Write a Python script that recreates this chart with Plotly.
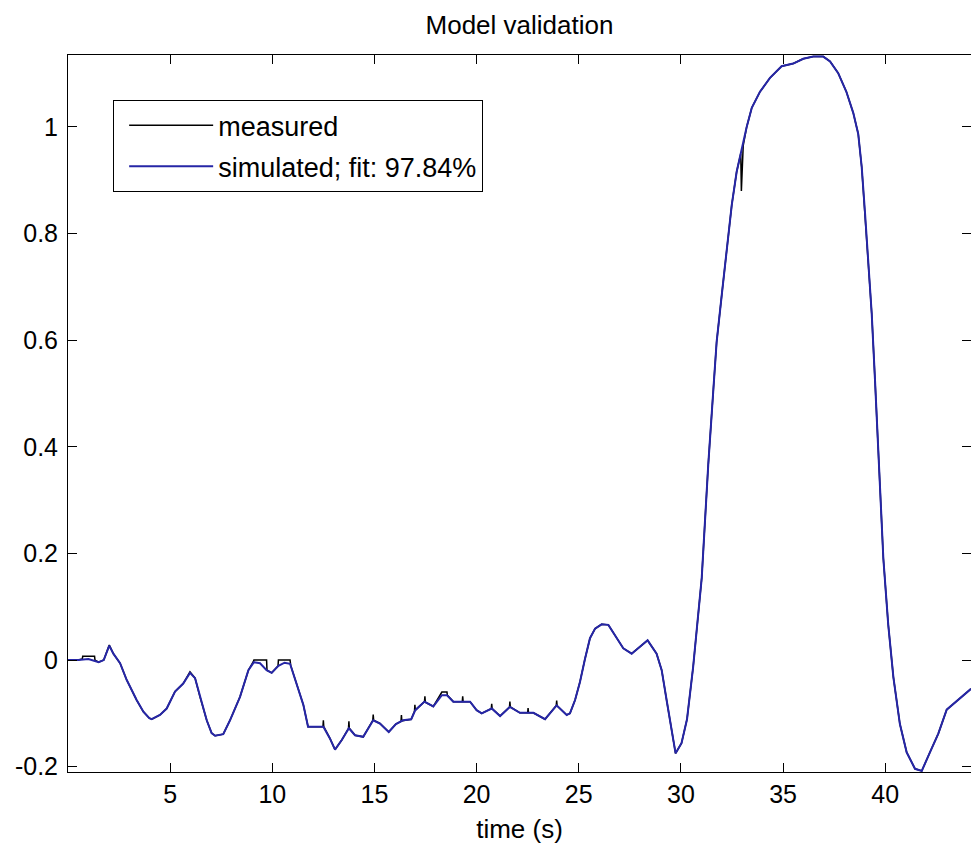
import plotly.graph_objects as go

# ---- data ----
sim_time = [0.0, 0.5, 1.0, 1.5, 1.75, 2.02, 2.22, 2.55, 2.87, 3.36, 3.69, 3.98, 4.1, 4.5, 4.83,
            5.24, 5.64, 5.97, 6.22, 6.46, 6.79, 7.03, 7.2, 7.6, 7.93, 8.42, 8.83, 9.1, 9.4, 9.72,
            9.97, 10.3, 10.6, 10.87, 11.19, 11.52, 11.75, 12.5, 12.82, 13.07, 13.4, 13.75, 14.05,
            14.45, 14.94, 15.27, 15.7, 16.05, 16.4, 16.8, 17.0, 17.45, 17.88, 18.3, 18.55, 18.86,
            19.68, 20.0, 20.25, 20.74, 21.15, 21.63, 22.12, 22.78, 23.35, 23.92, 24.41, 24.57,
            24.82, 25.06, 25.31, 25.55, 25.8, 26.12, 26.45, 26.77, 27.18, 27.59, 28.0, 28.37,
            28.81, 29.06, 29.3, 29.55, 29.74, 30.03, 30.3, 30.6, 30.85, 31.02, 31.18, 31.34,
            31.59, 31.75, 32.0, 32.24, 32.49, 32.73, 32.98, 33.22, 33.47, 33.87, 34.36, 34.93,
            35.5, 35.99, 36.48, 36.97, 37.3, 37.7, 38.1, 38.44, 38.68, 38.85, 39.01, 39.17,
            39.34, 39.5, 39.66, 39.74, 39.91, 40.15, 40.4, 40.72, 41.05, 41.46, 41.79, 42.19,
            42.6, 43.01, 43.66, 44.2]
sim_values = [0.0, 0.0, 0.002, -0.004, 0.0, 0.027, 0.012, -0.006, -0.037, -0.075, -0.097, -0.109,
              -0.111, -0.103, -0.091, -0.059, -0.044, -0.024, -0.034, -0.069, -0.113, -0.137,
              -0.142, -0.139, -0.113, -0.069, -0.019, -0.004, -0.006, -0.019, -0.024, -0.011,
              -0.005, -0.007, -0.044, -0.084, -0.125, -0.125, -0.147, -0.168, -0.150, -0.128,
              -0.141, -0.144, -0.113, -0.119, -0.135, -0.120, -0.113, -0.111, -0.094, -0.078,
              -0.087, -0.066, -0.066, -0.078, -0.078, -0.094, -0.100, -0.091, -0.105, -0.088,
              -0.099, -0.099, -0.111, -0.085, -0.103, -0.100, -0.075, -0.041, 0.003, 0.041,
              0.059, 0.067, 0.066, 0.047, 0.022, 0.012, 0.025, 0.037, 0.012, -0.019, -0.075,
              -0.137, -0.175, -0.156, -0.111, -0.013, 0.084, 0.154, 0.261, 0.367, 0.508, 0.597,
              0.685, 0.774, 0.854, 0.916, 0.960, 1.000, 1.036, 1.066, 1.092, 1.114, 1.119, 1.128,
              1.132, 1.132, 1.123, 1.101, 1.066, 1.026, 0.987, 0.925, 0.840, 0.756, 0.650, 0.526,
              0.394, 0.323, 0.190, 0.066, -0.032, -0.120, -0.173, -0.204, -0.208, -0.173, -0.138,
              -0.093, -0.071, -0.054]

meas_time = [0.0, 0.5, 0.7, 0.72, 1.3, 1.32, 1.5, 1.75, 2.02, 2.22, 2.55, 2.87, 3.36, 3.69, 3.98,
             4.1, 4.5, 4.83, 5.24, 5.64, 5.97, 6.22, 6.46, 6.79, 7.03, 7.2, 7.6, 7.93, 8.42, 8.83,
             9.07, 9.1, 9.72, 9.74, 9.97, 10.28, 10.3, 10.87, 10.9, 11.19, 11.52, 11.75, 12.48,
             12.5, 12.52, 12.82, 13.07, 13.4, 13.73, 13.75, 13.77, 14.05, 14.45, 14.92, 14.94,
             14.96, 15.27, 15.7, 16.05, 16.3, 16.32, 16.34, 16.8, 16.96, 16.98, 17.0, 17.45,
             17.47, 17.49, 17.88, 18.3, 18.55, 18.57, 18.86, 19.3, 19.32, 19.34, 19.68, 20.0,
             20.25, 20.72, 20.74, 20.76, 21.15, 21.61, 21.63, 21.65, 22.12, 22.5, 22.52, 22.54,
             22.78, 23.35, 23.9, 23.92, 23.94, 24.41, 24.57, 24.82, 25.06, 25.31, 25.55, 25.8,
             26.12, 26.45, 26.77, 27.18, 27.59, 28.0, 28.37, 28.81, 29.06, 29.3, 29.55, 29.74,
             30.03, 30.3, 30.6, 30.85, 31.02, 31.18, 31.34, 31.59, 31.75, 32.0, 32.24, 32.49,
             32.73, 32.93, 32.96, 33.05, 33.22, 33.47, 33.87, 34.36, 34.93, 35.5, 35.99, 36.48,
             36.97, 37.3, 37.7, 38.1, 38.44, 38.68, 38.85, 39.01, 39.17, 39.34, 39.5, 39.66,
             39.74, 39.91, 40.15, 40.4, 40.72, 41.05, 41.46, 41.79, 42.19, 42.6, 43.01, 43.66,
             44.2]
meas_values = [0.0, 0.0, 0.002, 0.007, 0.007, 0.0, -0.004, 0.0, 0.028, 0.012, -0.006, -0.037,
               -0.075, -0.097, -0.109, -0.111, -0.103, -0.091, -0.059, -0.044, -0.022, -0.034,
               -0.069, -0.113, -0.137, -0.142, -0.139, -0.113, -0.069, -0.019, -0.003, 0.0, 0.0,
               -0.019, -0.024, -0.011, 0.0, 0.0, -0.010, -0.044, -0.084, -0.125, -0.125, -0.113,
               -0.125, -0.147, -0.168, -0.150, -0.128, -0.115, -0.128, -0.141, -0.144, -0.113,
               -0.102, -0.113, -0.119, -0.135, -0.120, -0.115, -0.103, -0.114, -0.111, -0.096,
               -0.084, -0.094, -0.078, -0.068, -0.079, -0.087, -0.060, -0.060, -0.066, -0.078,
               -0.078, -0.068, -0.078, -0.078, -0.094, -0.100, -0.091, -0.082, -0.091, -0.105,
               -0.088, -0.078, -0.088, -0.099, -0.099, -0.090, -0.099, -0.099, -0.111, -0.085,
               -0.076, -0.086, -0.103, -0.100, -0.075, -0.041, 0.003, 0.041, 0.059, 0.067, 0.066,
               0.047, 0.022, 0.012, 0.025, 0.037, 0.012, -0.019, -0.075, -0.137, -0.175, -0.156,
               -0.111, -0.013, 0.084, 0.154, 0.261, 0.367, 0.508, 0.597, 0.685, 0.774, 0.854,
               0.916, 0.950, 0.880, 0.965, 1.000, 1.036, 1.066, 1.092, 1.114, 1.119, 1.128, 1.132,
               1.132, 1.123, 1.101, 1.066, 1.026, 0.987, 0.925, 0.840, 0.756, 0.650, 0.526, 0.394,
               0.323, 0.190, 0.066, -0.032, -0.120, -0.173, -0.204, -0.208, -0.173, -0.138, -0.093,
               -0.071, -0.054]

x_ticks = [5, 10, 15, 20, 25, 30, 35, 40]
y_ticks = [-0.2, 0, 0.2, 0.4, 0.6, 0.8, 1]
y_tick_labels = ["-0.2", "0", "0.2", "0.4", "0.6", "0.8", "1"]

series_names = ["measured", "simulated; fit: 97.84%"]

FONT = "Liberation Sans, Arial, sans-serif"

fig = go.Figure()
fig.add_trace(go.Scatter(x=meas_time, y=meas_values, mode="lines", name=series_names[0],
                         legendgroup="m", line=dict(color="black", width=1.5)))
fig.add_trace(go.Scatter(x=sim_time, y=sim_values, mode="lines", name=series_names[1],
                         legendgroup="s", line=dict(color="#2626a6", width=2)))
# invisible trace so the right-hand tick axis is drawn
fig.add_trace(go.Scatter(x=[None], y=[None], yaxis="y2", showlegend=False, hoverinfo="skip"))

x_range = [0, 44.2]
y_range = [-0.21, 1.135]

fig.update_layout(
    width=971, height=845,
    margin=dict(l=68, r=0, t=55, b=73),
    paper_bgcolor="white", plot_bgcolor="white",
    font=dict(family=FONT, size=25, color="black"),
    title=dict(text="Model validation", x=0.535, xanchor="center", y=0.97, yanchor="middle",
               font=dict(family=FONT, size=26, color="black")),
    showlegend=True,
    legend=dict(x=0.05, y=0.937, xanchor="left", yanchor="top",
                bgcolor="white", bordercolor="black", borderwidth=1,
                font=dict(family=FONT, size=27, color="black"),
                itemwidth=84, indentation=10, traceorder="grouped", tracegroupgap=3),
    xaxis=dict(range=x_range, tickvals=x_ticks, ticks="inside", ticklen=9, tickcolor="black",
               showline=True, linecolor="black", linewidth=1, mirror="ticks",
               showgrid=False, zeroline=False,
               title=dict(text="time (s)", standoff=12, font=dict(family=FONT, size=26)),
               tickfont=dict(family=FONT, size=25)),
    yaxis=dict(range=y_range, tickvals=y_ticks, ticktext=y_tick_labels, ticks="inside",
               ticklen=9, tickcolor="black", showline=True, linecolor="black", linewidth=1,
               mirror=False, showgrid=False, zeroline=False,
               tickfont=dict(family=FONT, size=25), ticklabelstandoff=4),
    yaxis2=dict(range=y_range, tickvals=y_ticks, overlaying="y", side="right",
                ticks="inside", ticklen=9, tickcolor="black", showline=False,
                showticklabels=False, showgrid=False, zeroline=False),
)

fig.write_html("out.html",
               config={"displayModeBar": False},
               post_script="document.body.style.margin='0';document.body.style.overflow='hidden';")
